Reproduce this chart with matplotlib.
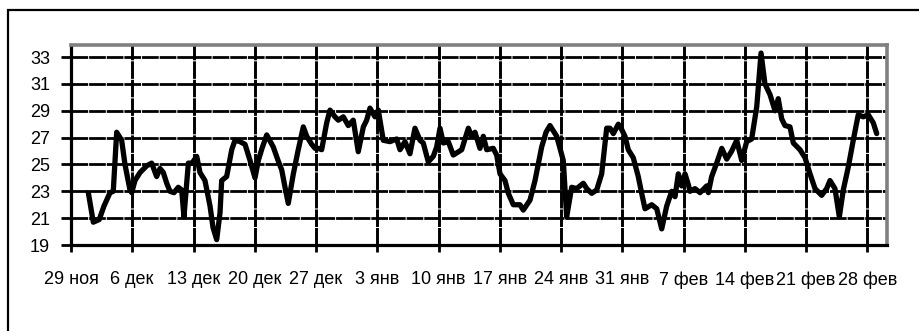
import matplotlib.pyplot as plt
from matplotlib.patches import Rectangle

plt.rcParams['font.family'] = ['Liberation Sans', 'DejaVu Sans']

# days since 29 Nov, temperature
days = [1.98, 2.55, 3.23, 3.77, 4.46, 4.83, 5.22, 5.79, 6.17, 6.74, 6.94, 7.31, 7.89, 8.65,
        9.22, 9.79, 10.17, 10.55, 10.94, 11.31, 11.77, 12.26, 12.65, 12.91, 13.41, 13.83,
        14.37, 14.74, 15.31, 15.89, 16.23, 16.65, 17.03, 17.22, 17.79, 18.37, 18.74, 19.31,
        19.89, 20.46, 21.03, 21.41, 21.83, 22.37, 23.12, 23.66, 24.08, 24.46, 24.83, 25.41,
        25.94, 26.55, 26.94, 27.51, 27.89, 28.26, 28.65, 29.22, 29.6, 30.17, 30.55, 31.12,
        31.69, 32.26, 32.83, 33.41, 33.79, 34.17, 34.74, 35.12, 35.69, 36.46, 37.22, 37.6,
        38.17, 38.74, 39.31, 39.89, 40.26, 40.83, 41.4, 41.79, 42.17, 42.55, 43.12, 43.69,
        44.65, 45.41, 45.79, 46.17, 46.74, 47.12, 47.51, 48.26, 48.65, 49.03, 49.6, 49.98,
        50.55, 51.31, 51.69, 52.46, 53.03, 53.79, 54.29, 54.74, 55.51, 56.26, 56.65, 57.22,
        57.79, 58.55, 58.94, 59.51, 60.08, 60.65, 61.22, 61.6, 61.98, 62.55, 62.94, 63.31,
        63.69, 64.26, 64.83, 65.22, 65.6, 66.37, 66.94, 67.51, 68.08, 68.65, 69.03, 69.41,
        69.79, 70.17, 70.55, 70.74, 71.31, 71.89, 72.65, 72.84, 73.22, 73.79, 74.37, 74.94,
        75.51, 76.08, 76.65, 77.22, 77.79, 78.37, 78.86, 79.31, 79.89, 80.46, 80.83, 81.22,
        81.6, 82.17, 82.55, 83.31, 83.89, 84.46, 85.03, 85.79, 86.36, 86.74, 87.31, 87.81,
        88.26, 88.83, 89.4, 89.97, 90.54, 91.12, 91.69, 92.08]
temps = [22.9, 20.7, 20.9, 21.9, 22.9, 23.0, 27.4, 26.8, 25.0, 23.1, 22.9, 23.8, 24.4, 24.9,
         25.1, 24.1, 24.7, 24.4, 23.6, 23.0, 22.9, 23.3, 23.1, 21.1, 25.1, 25.1,
         25.6, 24.4, 23.8, 21.9, 20.3, 19.4, 21.4, 23.8, 24.1, 26.1, 26.8, 26.7,
         26.5, 25.3, 24.0, 25.3, 26.2, 27.2, 26.3, 25.3, 24.6, 23.3, 22.1, 24.3,
         26.0, 27.8, 27.1, 26.5, 26.2, 26.2, 26.1, 28.1, 29.05, 28.55, 28.3, 28.55,
         27.9, 28.3, 25.95, 27.8, 28.3, 29.2, 28.55, 29.05, 26.8, 26.7, 26.9, 26.1,
         26.7, 25.8, 27.7, 26.8, 26.6, 25.2, 25.6, 26.3, 27.7, 26.6, 26.7, 25.7,
         26.1, 27.7, 27.1, 27.4, 26.2, 27.1, 26.1, 26.2, 25.7, 24.3, 23.8, 22.85,
         22.0, 22.0, 21.6, 22.35, 23.8, 26.3, 27.4, 27.9, 27.1, 25.3, 21.1, 23.3,
         23.2, 23.6, 23.2, 22.85, 23.1, 24.3, 27.7, 27.7, 27.3, 28.0, 27.6, 27.1,
         26.1, 25.5, 24.1, 22.85, 21.7, 22.0, 21.7, 20.2, 21.9, 23.0, 22.6, 24.3,
         23.4, 24.3, 23.5, 23.0, 23.2, 22.9, 23.4, 22.9, 24.1, 25.1, 26.2, 25.4,
         26.0, 26.8, 25.3, 26.7, 26.9, 29.3, 33.3, 31.0, 30.2, 29.0, 29.9, 28.4,
         27.9, 27.8, 26.6, 26.1, 25.5, 24.3, 23.2, 22.7, 23.2, 23.8, 23.2, 21.1,
         23.1, 24.8, 26.8, 28.7, 28.55, 28.7, 28.1, 27.3]

tick_days = [0, 7, 14, 21, 28, 35, 42, 49, 56, 63, 70, 77, 84, 91]
tick_labels = ["29 ноя", "6 дек", "13 дек", "20 дек", "27 дек", "3 янв", "10 янв",
               "17 янв", "24 янв", "31 янв", "7 фев", "14 фев", "21 фев", "28 фев"]
y_ticks = [19, 21, 23, 25, 27, 29, 31, 33]

fig = plt.figure(figsize=(9.19, 3.31), dpi=100)
ax = fig.add_axes([71 / 919, 1 - 245 / 331, (886.5 - 71) / 919, 200 / 331])

ax.plot(days, temps, color='black', lw=3.8, solid_joinstyle='round',
        solid_capstyle='round', zorder=3)

ax.set_xlim(0, 93.2)
ax.set_ylim(19, 33.9)
ax.set_xticks(tick_days)
ax.set_xticklabels(tick_labels, fontsize=13)
ax.set_yticks(y_ticks)
ax.set_yticklabels([str(v) for v in y_ticks], fontsize=13)

for v in y_ticks[1:]:
    ax.axhline(v, color='black', lw=2.0, ls=(0, (6, 0.35)), zorder=1)
for d in tick_days[1:]:
    ax.axvline(d, color='black', lw=2.1, ls=(0, (6, 0.35)), zorder=1)

for side in ['left', 'bottom']:
    ax.spines[side].set_linewidth(2.3)
    ax.spines[side].set_color('black')
for side in ['top', 'right']:
    ax.spines[side].set_linewidth(2.6)
    ax.spines[side].set_color('#808080')

ax.tick_params(axis='y', direction='out', length=7, width=2, pad=8)
ax.tick_params(axis='x', direction='out', length=5, width=2, pad=14)

# outer chart border (cropped on right and bottom)
fig.patches.append(Rectangle((8 / 919, -0.2), 1.2, 1.2 - 10 / 331, transform=fig.transFigure,
                             fill=False, edgecolor='black', lw=1.6))

fig.savefig('out.png', dpi=100)
